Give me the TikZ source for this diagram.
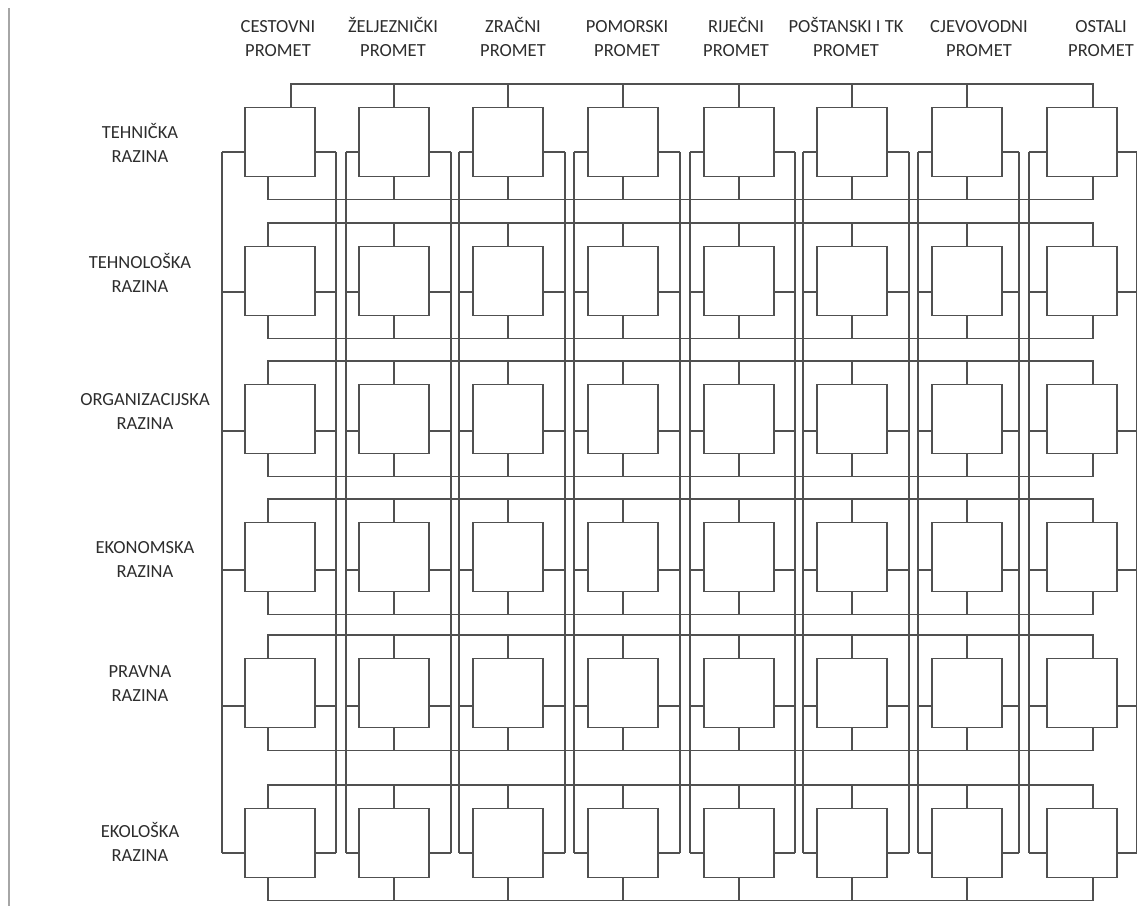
\documentclass[tikz,border=0pt]{standalone}
\usepackage{fontspec}
\setmainfont{Carlito}
\definecolor{linec}{RGB}{80,80,80}
\definecolor{textc}{RGB}{45,45,45}
\newcommand{\twol}[2]{\strut #1\\\strut #2}
\tikzset{
  box/.style={draw=linec, line width=1.7pt, minimum width=70pt, minimum height=69pt, inner sep=0pt},
  wire/.style={draw=linec, line width=1.7pt},
  lbl/.style={text=textc, font=\fontsize{18.5}{23.5}\selectfont, align=center, inner sep=0pt}
}
\begin{document}
\begin{tikzpicture}[x=1pt,y=-1pt]
\useasboundingbox (0,0) rectangle (1137,906);
\draw[gray!70, line width=1.3pt] (9,8) -- (9,906);
% column headers
\node[lbl] (h1) at (278,40) {\twol{CESTOVNI}{PROMET}};
\node[lbl] (h2) at (393,40) {\twol{ŽELJEZNIČKI}{PROMET}};
\node[lbl] (h3) at (513,40) {\twol{ZRAČNI}{PROMET}};
\node[lbl] (h4) at (627,40) {\twol{POMORSKI}{PROMET}};
\node[lbl] (h5) at (736,40) {\twol{RIJEČNI}{PROMET}};
\node[lbl] (h6) at (846,40) {\twol{POŠTANSKI I TK}{PROMET}};
\node[lbl] (h7) at (979,40) {\twol{CJEVOVODNI}{PROMET}};
\node[lbl] (h8) at (1101,40) {\twol{OSTALI}{PROMET}};
% row labels
\node[lbl] (l1) at (140,146) {\twol{TEHNIČKA}{RAZINA}};
\node[lbl] (l2) at (140,276) {\twol{TEHNOLOŠKA}{RAZINA}};
\node[lbl] (l3) at (145,413) {\twol{ORGANIZACIJSKA}{RAZINA}};
\node[lbl] (l4) at (145,561) {\twol{EKONOMSKA}{RAZINA}};
\node[lbl] (l5) at (140,685) {\twol{PRAVNA}{RAZINA}};
\node[lbl] (l6) at (140,845) {\twol{EKOLOŠKA}{RAZINA}};
% boxes and side stubs
\foreach \r/\y/\s in {1/142/152, 2/281/292, 3/419/431, 4/557/570, 5/693/706, 6/843/853}{
  \foreach \c/\x/\xl/\xr in {1/280/222/336, 2/394/346/451, 3/508/459/565, 4/623/574/680,
                               5/739/690/795, 6/852/803/909, 7/967/918/1019, 8/1082/1029/1137}{
    \node[box] (b\r\c) at (\x,\y) {};
    \coordinate (L\r\c) at (\xl,\s);
    \coordinate (R\r\c) at (\xr,\s);
    \draw[wire] (b\r\c.west |- L\r\c) -- (L\r\c);
    \draw[wire] (b\r\c.east |- R\r\c) -- (R\r\c);
  }
}
% vertical lines
\foreach \c in {1,...,8}{
  \draw[wire] (L1\c) -- (L6\c);
  \draw[wire] (R1\c) -- (R6\c);
}
% horizontal buses
\foreach \r/\oa in {1/11, 2/-12, 3/-12, 4/-12, 5/-12, 6/-12}{
  \draw[wire] ([xshift=\oa pt]b\r1.north) -- ++(0,-23) -| ([xshift=11pt]b\r8.north);
  \draw[wire] ([xshift=-12pt]b\r1.south) -- ++(0,22) -| ([xshift=11pt]b\r8.south);
  \foreach \c in {2,...,7}{
    \draw[wire] (b\r\c.north) -- ++(0,-23);
    \draw[wire] (b\r\c.south) -- ++(0,22);
  }
}
\end{tikzpicture}
\end{document}
